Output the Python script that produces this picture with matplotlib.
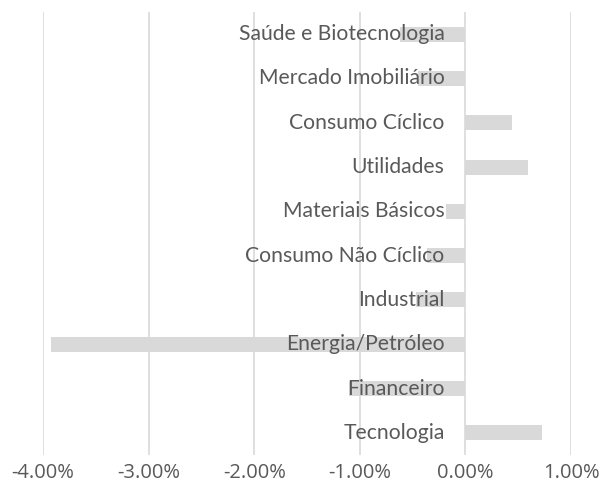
import matplotlib.pyplot as plt
from matplotlib.ticker import FuncFormatter

sectors = ["Tecnologia", "Financeiro", "Energia/Petróleo", "Industrial",
           "Consumo Não Cíclico", "Materiais Básicos", "Utilidades",
           "Consumo Cíclico", "Mercado Imobiliário", "Saúde e Biotecnologia"]
returns = [0.73, -1.10, -3.92, -0.47, -0.36, -0.18, 0.59, 0.44, -0.45, -0.62]

fig = plt.figure(figsize=(6.03, 4.91), dpi=100)
ax = fig.add_axes([43 / 603, 1 - 455 / 491, (571 - 43) / 603, (455 - 12) / 491])

pos = range(len(sectors))
ax.barh(pos, returns, height=0.34, color="#d9d9d9", zorder=2)

# sector names sit next to the zero line, on top of the bars
for i, name in zip(pos, sectors):
    ax.annotate(name, xy=(0, i), xytext=(-15, 0), textcoords="offset points",
                ha="right", va="center", fontsize=15.2, color="#595959",
                family="Lato", zorder=3)

ax.set_xlim(-4, 1)
ax.set_ylim(-0.5, 9.5)
ax.set_xticks([-4, -3, -2, -1, 0, 1])
ax.xaxis.set_major_formatter(FuncFormatter(lambda v, p: f"{v:.2f}%"))
ax.set_yticks([])
ax.grid(axis="x", color="#d9d9d9", linewidth=1.2, zorder=0)
for s in ax.spines.values():
    s.set_visible(False)
ax.tick_params(axis="x", length=0, pad=6, labelsize=14.5, labelcolor="#595959")
for lbl in ax.get_xticklabels():
    lbl.set_family("Open Sans")

fig.savefig("out.png", dpi=100)
